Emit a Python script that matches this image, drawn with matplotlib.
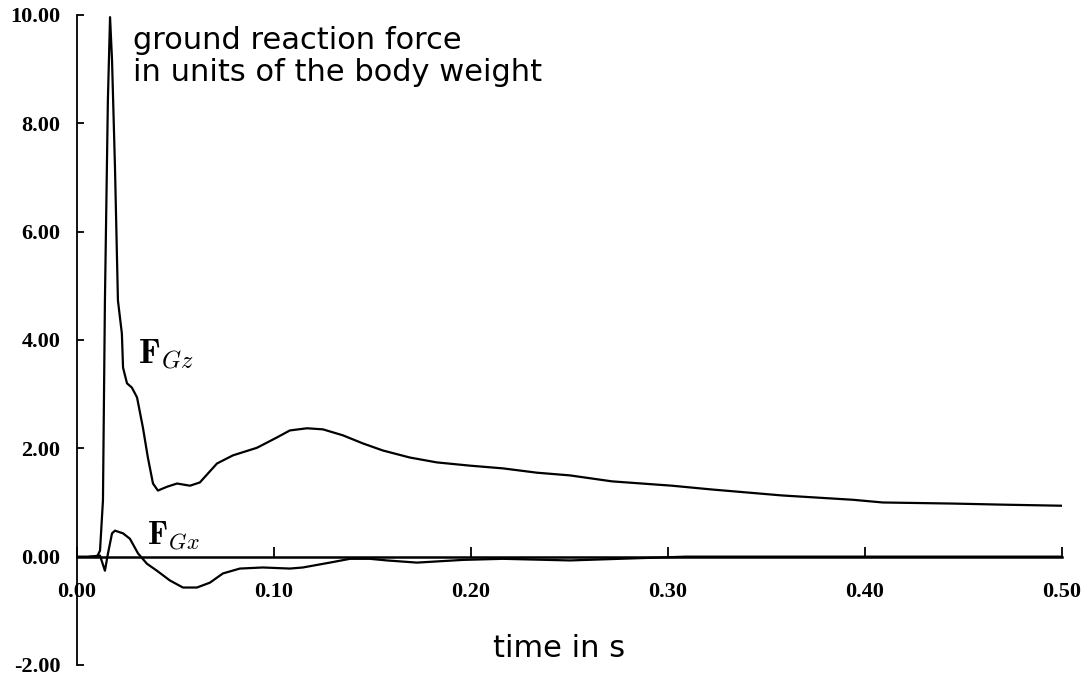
import matplotlib
matplotlib.use("Agg")
import matplotlib.pyplot as plt
import numpy as np

# time in s and force in units of body weight
t_gz = [0.0, 0.0102, 0.0117, 0.0132, 0.0142, 0.0157, 0.0168, 0.0178, 0.0193,
        0.0208, 0.0228, 0.0234, 0.0254, 0.0279, 0.0305, 0.0335, 0.036, 0.0386,
        0.0411, 0.0457, 0.0508, 0.0574, 0.0624, 0.0711, 0.0792, 0.0914, 0.1015,
        0.1081, 0.1168, 0.1249, 0.135, 0.1452, 0.1553, 0.169, 0.1827, 0.1995,
        0.2162, 0.2335, 0.2503, 0.2716, 0.302, 0.3223, 0.3579, 0.3939, 0.4091,
        0.4447, 0.47, 0.5]
f_gz = [0.0, 0.0, 0.11, 1.04, 4.73, 8.43, 9.96, 9.17, 7.19,
        4.73, 4.12, 3.49, 3.2, 3.12, 2.94, 2.38, 1.83, 1.35,
        1.22, 1.29, 1.35, 1.31, 1.37, 1.72, 1.87, 2.01, 2.2,
        2.33, 2.37, 2.35, 2.24, 2.09, 1.96, 1.83, 1.74, 1.68,
        1.63, 1.55, 1.50, 1.39, 1.31, 1.24, 1.13, 1.05, 1.0,
        0.98, 0.96, 0.94]

t_gx = [0.0066, 0.0117, 0.0142, 0.0157, 0.0178, 0.0193, 0.0234, 0.0269, 0.031,
        0.0355, 0.0406, 0.0472, 0.0538, 0.0609, 0.0675, 0.0741, 0.0827, 0.0944,
        0.1081, 0.1147, 0.1284, 0.1386, 0.1487, 0.1574, 0.1726, 0.1959, 0.2162,
        0.2503, 0.3091, 0.5]
f_gx = [0.0, 0.02, -0.26, 0.05, 0.43, 0.48, 0.43, 0.33, 0.06,
        -0.13, -0.26, -0.44, -0.57, -0.57, -0.48, -0.31, -0.22, -0.2,
        -0.22, -0.2, -0.11, -0.04, -0.04, -0.07, -0.11, -0.06, -0.04,
        -0.07, 0.0, 0.0]

x_ticks = [0.0, 0.1, 0.2, 0.3, 0.4, 0.5]
y_ticks = [-2, 0, 2, 4, 6, 8, 10]

plt.rcParams['mathtext.fontset'] = 'cm'

fig = plt.figure(figsize=(10.87, 6.78), dpi=100)
ax = fig.add_axes([0.0708, 0.0192, 0.906, 0.9587])

ax.plot(t_gz, f_gz, color='black', lw=1.6)
ax.plot(t_gx, f_gx, color='black', lw=1.6)

ax.set_xlim(0, 0.5)
ax.set_ylim(-2, 10)

ax.spines['top'].set_visible(False)
ax.spines['right'].set_visible(False)
ax.spines['bottom'].set_position(('data', 0))
ax.spines['bottom'].set_linewidth(1.8)
ax.spines['left'].set_linewidth(1.3)

tick_font = dict(family='Liberation Serif', weight='bold', size=16)
ax.set_xticks(x_ticks)
ax.set_xticklabels(['%.2f' % v for v in x_ticks], **tick_font)
ax.set_yticks(y_ticks)
ax.set_yticklabels(['%.2f' % v for v in y_ticks], **tick_font)
ax.tick_params(axis='x', direction='in', length=7, width=1.3, pad=18)
ax.tick_params(axis='y', direction='in', length=5, width=1.3, pad=12)

ax.text(0.0285, 9.8, 'ground reaction force\nin units of the body weight',
        family='DejaVu Sans', size=22, va='top', ha='left', linespacing=1.15)
ax.text(0.245, -1.85, 'time in s', family='DejaVu Sans', size=22,
        ha='center', va='baseline')

ax.text(0.031, 3.57, r'$\mathbf{F}_{Gz}$', size=25, va='baseline')
ax.text(0.0355, 0.24, r'$\mathbf{F}_{Gx}$', size=23, va='baseline')

fig.savefig('out.png', dpi=100)
